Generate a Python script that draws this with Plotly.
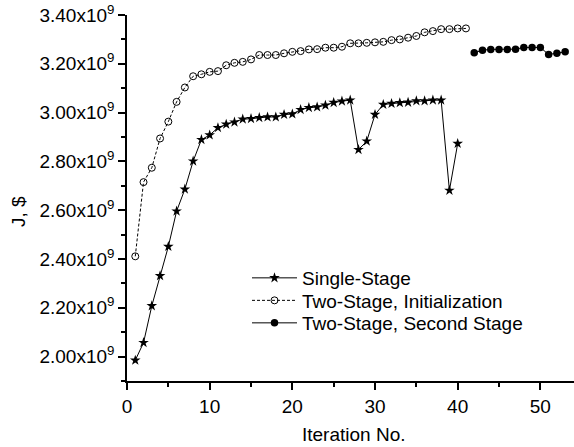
import plotly.graph_objects as go

# Single-Stage
single_x = list(range(1, 41))
single_y = [1.985, 2.057, 2.208, 2.331, 2.451, 2.596, 2.686, 2.801, 2.889, 2.908,
            2.938, 2.952, 2.961, 2.973, 2.975, 2.979, 2.982, 2.982, 2.992, 2.994,
            3.012, 3.020, 3.023, 3.030, 3.041, 3.047, 3.051, 2.848, 2.883, 2.992,
            3.033, 3.037, 3.040, 3.042, 3.048, 3.048, 3.051, 3.051, 2.681, 2.873]

# Two-Stage, Initialization
init_x = list(range(1, 42))
init_y = [2.411, 2.715, 2.774, 2.894, 2.963, 3.044, 3.103, 3.149, 3.157, 3.167,
          3.170, 3.194, 3.204, 3.208, 3.218, 3.236, 3.236, 3.236, 3.243, 3.249,
          3.252, 3.259, 3.260, 3.266, 3.266, 3.270, 3.284, 3.284, 3.286, 3.288,
          3.290, 3.297, 3.300, 3.307, 3.314, 3.329, 3.334, 3.342, 3.342, 3.345,
          3.345]

# Two-Stage, Second Stage
second_x = list(range(42, 54))
second_y = [3.245, 3.256, 3.259, 3.259, 3.259, 3.260, 3.267, 3.267, 3.267, 3.238,
            3.243, 3.249]

scale = 1e9
y_tick_vals = [2.0, 2.2, 2.4, 2.6, 2.8, 3.0, 3.2, 3.4]
y_minor_vals = [1.9, 2.1, 2.3, 2.5, 2.7, 2.9, 3.1, 3.3]
y_tick_text = ["%.2fx10<sup>9</sup>" % v for v in y_tick_vals]
x_tick_vals = [0, 10, 20, 30, 40, 50]

font = "Liberation Sans, Arial, sans-serif"

L, T, B = 127, 15, 66
W, H = 574, 447
plot_w = W - L
plot_h = H - T - B

fig = go.Figure()
fig.add_trace(go.Scatter(
    x=single_x, y=[v * scale for v in single_y], name="Single-Stage",
    mode="lines+markers", legend="legend",
    line=dict(color="black", width=1),
    marker=dict(symbol="star", size=8, color="black"),
))
fig.add_trace(go.Scatter(
    x=init_x, y=[v * scale for v in init_y], name="Two-Stage, Initialization",
    mode="lines+markers", legend="legend2",
    line=dict(color="black", width=1, dash="3px,2px"),
    marker=dict(symbol="circle-open", size=7, color="black", line=dict(width=1)),
))
fig.add_trace(go.Scatter(
    x=second_x, y=[v * scale for v in second_y], name="Two-Stage, Second Stage",
    mode="lines+markers", legend="legend3",
    line=dict(color="black", width=1),
    marker=dict(symbol="circle", size=7.5, color="black"),
))

axis_common = dict(
    showgrid=False, zeroline=False, showline=True, linecolor="black", linewidth=1.5,
    ticks="outside", ticklen=7, tickwidth=1.5, tickcolor="black",
    automargin=False, tickfont=dict(size=19),
)


def legend_at(row_y):
    return dict(x=(247 - L) / plot_w, y=(H - B - row_y) / plot_h,
                xanchor="left", yanchor="middle",
                bgcolor="rgba(0,0,0,0)", font=dict(size=19),
                itemwidth=45, borderwidth=0)


fig.update_layout(
    width=W, height=H,
    margin=dict(l=L, r=0, t=T, b=B, pad=0),
    plot_bgcolor="white", paper_bgcolor="white",
    font=dict(family=font, size=19, color="black"),
    showlegend=True,
    legend=legend_at(278),
    legend2=legend_at(300.5),
    legend3=legend_at(323),
    xaxis=dict(
        range=[0, 54.07], tickvals=x_tick_vals,
        minor=dict(dtick=5, ticks="outside", ticklen=4, tickwidth=1.5, tickcolor="black"),
        **axis_common,
    ),
    yaxis=dict(
        range=[1.9e9, 3.4e9], tickvals=[v * scale for v in y_tick_vals], ticktext=y_tick_text,
        minor=dict(tickvals=[v * scale for v in y_minor_vals],
                   ticks="outside", ticklen=4, tickwidth=1.5, tickcolor="black"),
        **axis_common,
    ),
    annotations=[
        dict(text="Iteration No.", xref="paper", yref="paper",
             x=(354 - L) / plot_w, y=(H - B - 434) / plot_h,
             xanchor="center", yanchor="middle", showarrow=False, font=dict(size=19)),
        dict(text="J, $", xref="paper", yref="paper",
             x=(18 - L) / plot_w, y=(H - B - 212) / plot_h, textangle=-90,
             xanchor="center", yanchor="middle", showarrow=False, font=dict(size=19)),
    ],
)

fig.write_html("out.html",
               config={"displayModeBar": False},
               post_script="document.body.style.margin='0';document.body.style.overflow='hidden';")
